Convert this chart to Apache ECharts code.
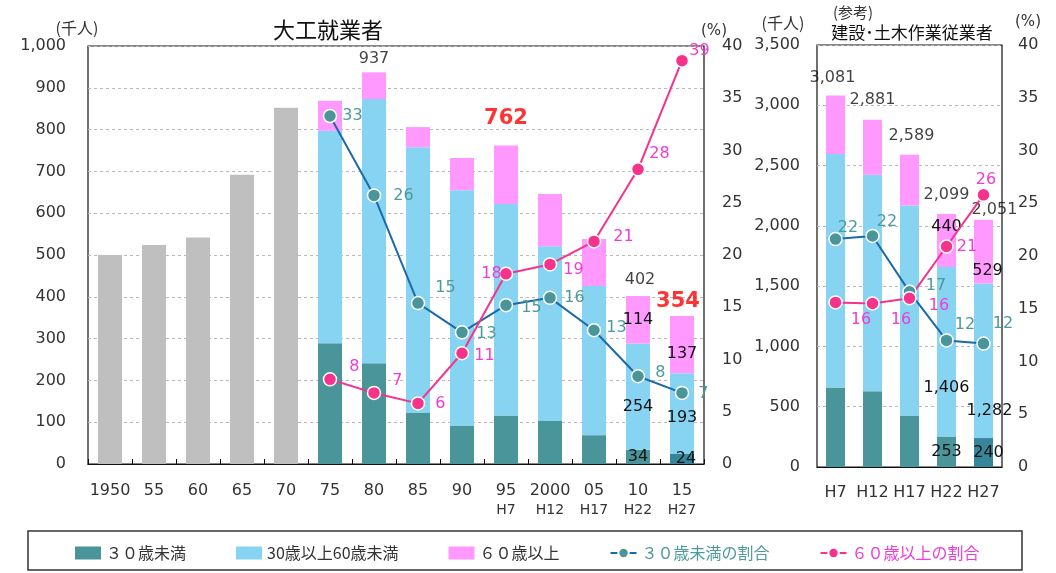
<!DOCTYPE html>
<html><head><meta charset="utf-8">
<script src="https://cdn.jsdelivr.net/npm/echarts/dist/echarts.min.js"></script>
<style>html,body{margin:0;padding:0;background:#fff}#c{width:1056px;height:573px}</style>
</head><body><div id="c"></div>
<script>
// ---- data: 大工就業者 (千人) ----
const years = ['1950','55','60','65','70','75','80','85','90','95','2000','05','10','15'];
const eraLabels = ['','','','','','','','','','H7','H12','H17','H22','H27'];
const earlyTotal = [500,524,542,692,852,'-','-','-','-','-','-','-','-','-'];
const under30 = ['-','-','-','-','-',289,241,122,92,116,103,69,34,24];
const age30to59 = ['-','-','-','-','-',508,632,636,563,506,418,357,254,193];
const over60 = ['-','-','-','-','-',72,64,48,77,140,125,112,114,137];
const share30 = ['-','-','-','-','-',33.3,25.7,15.4,12.6,15.2,15.9,12.8,8.4,6.8];
const share60 = ['-','-','-','-','-',8.1,6.8,5.8,10.6,18.2,19.1,21.3,28.2,38.6];

// ---- data: (参考) 建設・土木作業従業者 (千人) ----
const refYears = ['H7','H12','H17','H22','H27'];
const refUnder30 = [659,628,427,253,240];
const refMid = [1938,1795,1742,1406,1282];
const refOver60 = [484,458,420,440,529];
const refShare30 = [21.6,21.9,16.6,12.0,11.7];
const refShare60 = [15.6,15.5,16.0,20.9,25.8];

// ---- tick settings ----
const leftMax = 1000, leftStep = 100;
const pctMax = 40, pctStep = 5;
const refMax = 3500, refStep = 500;

const FONT = '"DejaVu Sans","Noto Sans CJK JP",sans-serif';
const JP = '"Noto Sans CJK JP",sans-serif';
const C_DARK = '#4a9599', C_DARK2 = '#35869b', C_MID = '#87d4f2', C_OLD = '#ff99ff', C_GREY = '#bfbfbf';
const C_L30 = '#1b6aaa', C_L60 = '#f5338c', C_T30 = '#4d9a9c', C_T60 = '#ee3cd8';
const fmt = v => Number(v).toLocaleString('en-US');

const leftTotals = years.map((_, i) => under30[i] === '-' ? '-' : under30[i] + age30to59[i] + over60[i]);
const refTotals = refYears.map((_, i) => refUnder30[i] + refMid[i] + refOver60[i]);

function withLabels(arr, cfg, base) {
  return arr.map((v, i) => {
    if (cfg[i] === undefined) return v;
    return { value: v, label: Object.assign({ show: true }, base || {}, cfg[i]) };
  });
}
function lineData(arr, offsets, color) {
  return arr.map((v, i) => v === '-' ? v : ({
    value: v,
    label: { show: true, position: 'right', offset: offsets[i] || [0, 0], color: color, fontSize: 16,
      fontFamily: FONT, formatter: p => Math.round(p.value) }
  }));
}

const off30L = {5:[0,0],6:[7,0],7:[5,-15],8:[2,2],9:[3,3],10:[2,0],11:[0,-2],12:[5,-3],13:[4,1]};
const off60L = {5:[7,-13],6:[6,-12],7:[5,0],8:[0,3],9:[-37,0],10:[1,5],11:[7,-5],12:[-1,-15],13:[-5,-10]};
const off30R = {0:[-10,-11],1:[-8,-14],2:[4,-6],3:[-4,-16],4:[-3,-20]};
const off60R = {0:[3,17],1:[6,16],2:[7,8],3:[-2,0],4:[-20,-15]};

const blackLbl = { color: '#111', fontSize: 16, fontFamily: FONT, formatter: p => fmt(p.value) };
const redLbl = { color: '#ff0000', fontSize: 21, fontWeight: 'bold', fontFamily: FONT };

const under30Data = under30.map((v, i) => {
  const base = { value: v };
  if (i === years.length - 1) base.itemStyle = { color: C_DARK2 };
  if (i === 12 || i === 13) base.label = Object.assign({ show: true, position: 'inside' }, blackLbl, i === 13 ? { offset: [4, 0] } : {});
  return base;
});
const refUnder30Data = refUnder30.map((v, i) => {
  const base = { value: v };
  if (i === refYears.length - 1) base.itemStyle = { color: C_DARK2 };
  if (i >= 3) base.label = Object.assign({ show: true, position: 'inside' }, blackLbl, i === 4 ? { offset: [5, 0] } : {});
  return base;
});

const totalLblL = {
  6: Object.assign({}, blackLbl),
  9: Object.assign({}, redLbl, { distance: 16 }),
  12: Object.assign({}, blackLbl, { offset: [2, -3] }),
  13: Object.assign({}, redLbl, { offset: [-4, 1] })
};
const totalLblR = {
  0: Object.assign({}, blackLbl, { offset: [-3, -5] }),
  1: Object.assign({}, blackLbl, { offset: [0, -7] }),
  2: Object.assign({}, blackLbl, { offset: [2, -6] }),
  3: Object.assign({}, blackLbl, { offset: [0, -6] }),
  4: Object.assign({}, blackLbl, { offset: [11, 3] })
};

const chart = echarts.init(document.getElementById('c'), null, { renderer: 'canvas' });
const axisTxt = { color: '#333', fontSize: 16, fontFamily: FONT };
const dashed = { show: true, lineStyle: { color: '#b8b8b8', type: [3, 3], width: 1 } };

const option = {
  animation: false,
  backgroundColor: '#fff',
  textStyle: { fontFamily: FONT },
  grid: [
    { left: 88, top: 46, width: 616, height: 418, show: true, borderColor: '#111', borderWidth: 1.2, containLabel: false },
    { left: 817, top: 45, width: 185, height: 422, show: true, borderColor: '#111', borderWidth: 1.2, containLabel: false }
  ],
  xAxis: [
    { type: 'category', gridIndex: 0, data: years,
      axisLine: { lineStyle: { color: '#111', width: 1.2 } },
      axisTick: { show: true, inside: true, length: 5, lineStyle: { color: '#111' } },
      axisLabel: { interval: 0, margin: 17, color: '#333', fontFamily: FONT,
        formatter: (v, i) => eraLabels[i] ? '{a|' + v + '}\n{b|' + eraLabels[i] + '}' : '{a|' + v + '}',
        rich: { a: { fontSize: 16, lineHeight: 20, color: '#333', fontFamily: FONT },
                b: { fontSize: 14, lineHeight: 18, color: '#333', fontFamily: FONT } } } },
    { type: 'category', gridIndex: 1, data: refYears,
      axisLine: { lineStyle: { color: '#111', width: 1.2 } },
      axisTick: { show: false },
      axisLabel: Object.assign({ interval: 0, margin: 18 }, axisTxt) }
  ],
  yAxis: [
    { type: 'value', gridIndex: 0, min: 0, max: leftMax, interval: leftStep,
      axisLine: { show: false }, axisTick: { show: false }, splitLine: dashed,
      axisLabel: Object.assign({ margin: 22, formatter: fmt }, axisTxt) },
    { type: 'value', gridIndex: 0, position: 'right', min: 0, max: pctMax, interval: pctStep,
      axisLine: { show: false }, axisTick: { show: false }, splitLine: { show: false },
      axisLabel: Object.assign({ margin: 18 }, axisTxt) },
    { type: 'value', gridIndex: 1, min: 0, max: refMax, interval: refStep,
      axisLine: { show: false }, axisTick: { show: false }, splitLine: dashed,
      axisLabel: Object.assign({ margin: 17, formatter: fmt }, axisTxt) },
    { type: 'value', gridIndex: 1, position: 'right', min: 0, max: pctMax, interval: pctStep,
      axisLine: { show: false }, axisTick: { show: false }, splitLine: { show: false },
      axisLabel: Object.assign({ margin: 16 }, axisTxt) }
  ],
  legend: {
    left: 70, top: 540, itemGap: 50, itemWidth: 26, itemHeight: 13,
    textStyle: { fontSize: 16, fontFamily: JP, color: '#333' },
    data: [
      { name: '３０歳未満', icon: 'rect' },
      { name: '30歳以上60歳未満', icon: 'rect' },
      { name: '６０歳以上', icon: 'rect' },
      { name: '３０歳未満の割合', textStyle: { color: C_T30 } },
      { name: '６０歳以上の割合', textStyle: { color: C_T60 } }
    ]
  },
  graphic: [
    { type: 'rect', shape: { x: 28, y: 531, width: 994, height: 39 }, style: { fill: 'none', stroke: '#333', lineWidth: 1.5 }, silent: true },
    { type: 'text', x: 77, y: 28, style: { text: '(千人)', font: '16px ' + JP, fill: '#333', align: 'center', verticalAlign: 'middle' } },
    { type: 'text', x: 328, y: 30, style: { text: '大工就業者', font: '22px ' + JP, fill: '#111', align: 'center', verticalAlign: 'middle' } },
    { type: 'text', x: 714, y: 31, style: { text: '(%)', font: '15px ' + FONT, fill: '#333', align: 'center', verticalAlign: 'middle' } },
    { type: 'text', x: 783, y: 23, style: { text: '(千人)', font: '16px ' + JP, fill: '#333', align: 'center', verticalAlign: 'middle' } },
    { type: 'text', x: 853, y: 12, style: { text: '(参考)', font: '15px ' + JP, fill: '#333', align: 'center', verticalAlign: 'middle' } },
    { type: 'text', x: 912, y: 33, style: { text: '建設･土木作業従業者', font: '17px ' + JP, fill: '#111', align: 'center', verticalAlign: 'middle' } },
    { type: 'text', x: 1028, y: 22, style: { text: '(%)', font: '15px ' + FONT, fill: '#333', align: 'center', verticalAlign: 'middle' } }
  ],
  series: [
    // left panel
    { name: 'early', type: 'bar', xAxisIndex: 0, yAxisIndex: 0, stack: 'L', barWidth: 24, data: earlyTotal, itemStyle: { color: C_GREY } },
    { name: '３０歳未満', type: 'bar', xAxisIndex: 0, yAxisIndex: 0, stack: 'L', barWidth: 24, data: under30Data, itemStyle: { color: C_DARK } },
    { name: '30歳以上60歳未満', type: 'bar', xAxisIndex: 0, yAxisIndex: 0, stack: 'L', barWidth: 24, itemStyle: { color: C_MID },
      data: withLabels(age30to59, { 12: { offset: [0, 10] }, 13: { offset: [0, 4] } }, Object.assign({ position: 'inside' }, blackLbl)) },
    { name: '６０歳以上', type: 'bar', xAxisIndex: 0, yAxisIndex: 0, stack: 'L', barWidth: 24, itemStyle: { color: C_OLD },
      data: withLabels(over60, { 12: {}, 13: { offset: [0, 9] } }, Object.assign({ position: 'inside' }, blackLbl)) },
    { name: 'totalL', type: 'scatter', xAxisIndex: 0, yAxisIndex: 0, symbolSize: 0, silent: true, z: 5,
      data: withLabels(leftTotals, totalLblL, { position: 'top', formatter: p => fmt(p.value) }) },
    { name: '３０歳未満の割合', type: 'line', xAxisIndex: 0, yAxisIndex: 1, z: 6, symbol: 'circle', symbolSize: 13,
      lineStyle: { color: C_L30, width: 2 }, itemStyle: { color: C_DARK, borderColor: '#fff', borderWidth: 1.5 },
      data: lineData(share30, off30L, C_T30) },
    { name: '６０歳以上の割合', type: 'line', xAxisIndex: 0, yAxisIndex: 1, z: 6, symbol: 'circle', symbolSize: 13,
      lineStyle: { color: C_L60, width: 2 }, itemStyle: { color: C_L60, borderColor: '#fff', borderWidth: 1.5 },
      data: lineData(share60, off60L, C_T60) },
    // right panel
    { name: '３０歳未満', type: 'bar', xAxisIndex: 1, yAxisIndex: 2, stack: 'R', barWidth: 19, data: refUnder30Data, itemStyle: { color: C_DARK } },
    { name: '30歳以上60歳未満', type: 'bar', xAxisIndex: 1, yAxisIndex: 2, stack: 'R', barWidth: 19, itemStyle: { color: C_MID },
      data: withLabels(refMid, { 3: { offset: [0, -36] }, 4: { offset: [6, -14] } }, Object.assign({ position: 'insideBottom' }, blackLbl)) },
    { name: '６０歳以上', type: 'bar', xAxisIndex: 1, yAxisIndex: 2, stack: 'R', barWidth: 19, itemStyle: { color: C_OLD },
      data: withLabels(refOver60, { 3: { position: 'insideTop' }, 4: { position: 'insideBottom', offset: [4, 0] } }, blackLbl) },
    { name: 'totalR', type: 'scatter', xAxisIndex: 1, yAxisIndex: 2, symbolSize: 0, silent: true, z: 5,
      data: withLabels(refTotals, totalLblR, { position: 'top', distance: 5, formatter: p => fmt(p.value) }) },
    { name: '３０歳未満の割合', type: 'line', xAxisIndex: 1, yAxisIndex: 3, z: 6, symbol: 'circle', symbolSize: 13,
      lineStyle: { color: C_L30, width: 2 }, itemStyle: { color: C_DARK, borderColor: '#fff', borderWidth: 1.5 },
      data: lineData(refShare30, off30R, C_T30) },
    { name: '６０歳以上の割合', type: 'line', xAxisIndex: 1, yAxisIndex: 3, z: 6, symbol: 'circle', symbolSize: 13,
      lineStyle: { color: C_L60, width: 2 }, itemStyle: { color: C_L60, borderColor: '#fff', borderWidth: 1.5 },
      data: lineData(refShare60, off60R, C_T60) }
  ]
};
chart.setOption(option);
</script></body></html>
